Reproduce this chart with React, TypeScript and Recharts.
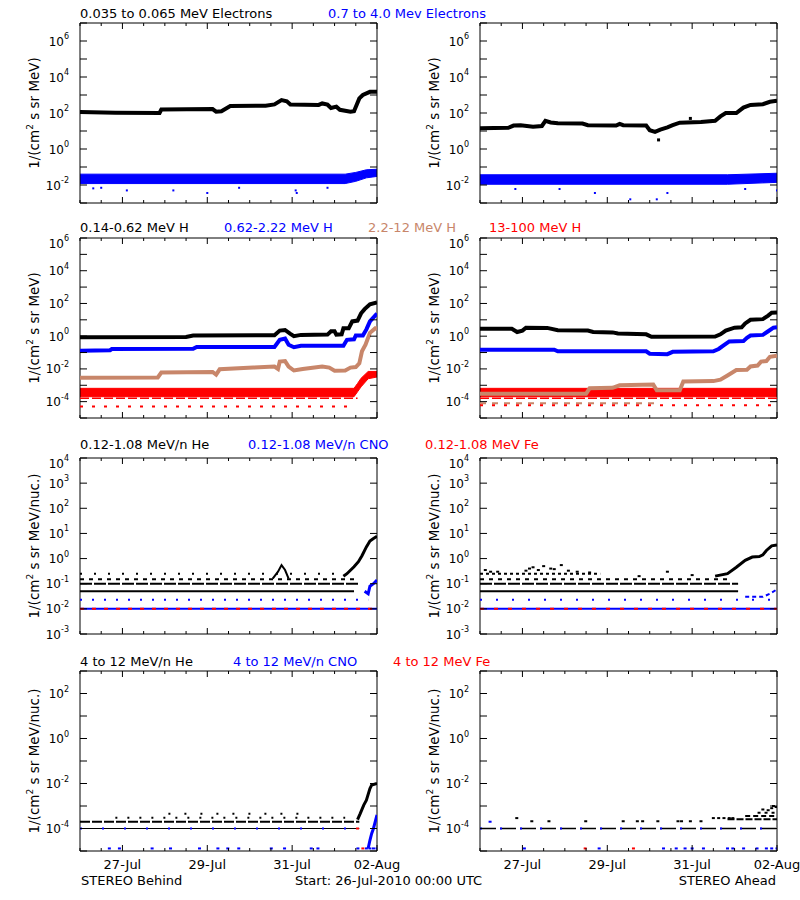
import React from 'react'
import { ComposedChart, Line, Area, Scatter, XAxis, YAxis, ReferenceArea } from 'recharts'

const FONT = '"DejaVu Sans", sans-serif'
const BLACK = '#000000'
const BLUE = '#0000ff'
const TAN = '#c8866a'
const RED = '#ff0000'

// x axis: hours after Start: 26-Jul-2010 00:00 UTC
const HOUR_TICKS = [0, 12, 24, 36, 48, 60, 72, 84, 96, 108, 120, 132, 144, 156, 168]
const DAY_TICKS = [24, 72, 120, 168]
const DAY_LABELS = ['27-Jul', '29-Jul', '31-Jul', '02-Aug']

// y axes (log)
const TICKS_E = [1e-3, 1e-2, 1e-1, 1, 1e1, 1e2, 1e3, 1e4, 1e5, 1e6, 1e7]
const LABELS_E = [-2, 0, 2, 4, 6]
const TICKS_H = [1e-5, 1e-4, 1e-3, 1e-2, 1e-1, 1, 1e1, 1e2, 1e3, 1e4, 1e5, 1e6]
const LABELS_H = [-4, -2, 0, 2, 4, 6]
const TICKS_LO = [1e-3, 1e-2, 1e-1, 1, 1e1, 1e2, 1e3, 1e4]
const LABELS_LO = [-3, -2, -1, 0, 1, 2, 3, 4]
const TICKS_HI = [1e-5, 1e-4, 1e-3, 1e-2, 1e-1, 1, 1e1, 1e2, 1e3]
const LABELS_HI = [-4, -2, 0, 2]

const ROW_TITLES = [
  ['0.035 to 0.065 MeV Electrons', '0.7 to 4.0 Mev Electrons'],
  ['0.14-0.62 MeV H', '0.62-2.22 MeV H', '2.2-12 MeV H', '13-100 MeV H'],
  ['0.12-1.08 MeV/n He', '0.12-1.08 MeV/n CNO', '0.12-1.08 MeV Fe'],
  ['4 to 12 MeV/n He', '4 to 12 MeV/n CNO', '4 to 12 MeV Fe'],
]

// ---- electrons (B = Behind, A = Ahead) ----  [hour, value]
const B_E_LOW = [[0, 112], [20, 102], [45, 100], [46, 155], [75, 165], [77, 118], [80, 125], [85, 245], [105, 255], [110, 300], [114, 520], [117, 450], [119, 300], [135, 280], [137, 340], [140, 290], [142, 190], [145, 225], [147, 150], [153, 118], [155, 125], [158, 650], [160, 1000], [164, 1500], [168, 1500]]
// [hour, low, high]
const B_E_HIGH = [[0, 0.012, 0.04], [150, 0.012, 0.04], [156, 0.016, 0.05], [162, 0.025, 0.07], [168, 0.03, 0.075]]
const B_E_HIGH_OUT = [[7.5, 0.0065], [12, 0.007], [26.5, 0.005], [52.8, 0.005], [72, 0.0036], [90, 0.007], [122.6, 0.0036], [122, 0.005], [140, 0.007]]

const A_E_LOW = [[0, 14], [16, 15], [19, 20], [23, 21], [30, 17], [35, 19], [37, 37], [40, 30], [44, 27], [58, 26], [61, 21], [77, 20], [79, 25], [81, 21], [94, 20], [96, 11], [99, 9], [102, 12], [106, 16], [109, 21], [113, 29], [125, 32], [133, 37], [136, 65], [139, 100], [145, 100], [149, 200], [153, 280], [160, 310], [164, 420], [168, 480]]
const A_E_LOW_OUT = [[101, 3.2], [119, 50]]
const A_E_HIGH = [[0, 0.011, 0.037], [140, 0.011, 0.037], [168, 0.014, 0.045]]
const A_E_HIGH_OUT = [[20, 0.006], [45, 0.006], [65, 0.0036], [85, 0.0016], [100, 0.0016], [106, 0.0036], [150, 0.006], [168, 0.005]]

// ---- protons ----
const B_H1 = [[0, 0.87], [60, 0.9], [64, 1.1], [110, 1.15], [113, 2.2], [116, 2.4], [119, 1.4], [121, 1.0], [125, 1.2], [140, 1.25], [142, 2.0], [144, 2.0], [145, 1.25], [148, 1.3], [149, 3.0], [152, 3.0], [154, 8], [157, 9], [159, 25], [161, 45], [164, 90], [168, 115]]
const B_H2 = [[0, 0.13], [17, 0.14], [18, 0.165], [64, 0.17], [66, 0.22], [110, 0.22], [113, 0.6], [116, 0.72], [118, 0.3], [121, 0.21], [125, 0.26], [149, 0.26], [151, 0.6], [155, 0.65], [156, 1.1], [160, 1.1], [162, 2.6], [164, 8], [168, 24]]
const B_H3 = [[0, 0.0029], [44, 0.003], [46, 0.006], [75, 0.0065], [77, 0.0045], [79, 0.0095], [98, 0.012], [110, 0.014], [112, 0.01], [113, 0.028], [116, 0.03], [118, 0.014], [121, 0.008], [126, 0.01], [137, 0.014], [141, 0.012], [144, 0.0078], [150, 0.008], [153, 0.012], [156, 0.013], [158, 0.022], [159.5, 0.12], [161.5, 0.3], [164, 1.6], [167, 3], [168, 3]]
const B_H4 = [[0, 2e-4, 6.5e-4], [155, 2e-4, 6.5e-4], [157, 4e-4, 1.3e-3], [159, 8e-4, 2.7e-3], [163, 2.5e-3, 7e-3], [168, 3.2e-3, 7e-3]]
// [level, from hour, to hour]
const B_H4_LEVELS = [[1.6e-4, 0, 157], [5e-5, 0, 155]]

const A_H1 = [[0, 2.8], [18, 2.8], [21, 1.8], [24, 2.2], [26, 3.3], [38, 3.2], [44, 2.3], [61, 2.2], [64, 1.8], [75, 1.7], [78, 1.45], [94, 1.3], [97, 0.92], [133, 0.95], [136, 1.3], [139, 2.2], [144, 3.3], [148, 3.5], [150, 6], [153, 10], [160, 11], [163, 18], [165, 27], [168, 28]]
const A_H2 = [[0, 0.15], [42, 0.15], [44, 0.12], [94, 0.12], [96, 0.085], [106, 0.08], [109, 0.11], [132, 0.12], [135, 0.165], [138, 0.28], [141, 0.48], [149, 0.5], [151, 0.8], [153, 1.1], [160, 1.2], [163, 2], [166, 3.3], [168, 3.5]]
const A_H3 = [[0, 3e-4], [60, 3e-4], [62, 6.5e-4], [75, 7e-4], [79, 1e-3], [98, 1.1e-3], [100, 5e-4], [113, 5e-4], [115, 1.7e-3], [132, 1.8e-3], [136, 2.2e-3], [140, 4e-3], [145, 8.5e-3], [151, 9e-3], [153, 1.4e-2], [157, 1.6e-2], [159, 2.8e-2], [162, 3e-2], [164, 5.5e-2], [168, 6.5e-2]]
const A_H3_LEVELS = [[8e-5, 0, 100]]
const A_H4 = [[0, 2e-4, 6.5e-4], [168, 2e-4, 6.5e-4]]
const A_H4_LEVELS = [[1.6e-4, 0, 168], [6e-5, 0, 168]]

// ---- 0.12-1.08 MeV/n heavy ions ----
const B_HE_LEVELS = [[0.05, 0, 155], [0.1, 0, 158], [0.15, 0, 155], [0.25, 0, 150]]
const B_HE_BUMP = [[109, 0.16], [112, 0.3], [114, 0.55], [116, 0.35], [118, 0.16]]
const B_HE_RISE = [[149, 0.2], [151, 0.25], [155, 0.47], [157.5, 0.75], [159.5, 1.3], [162, 2.9], [164, 5], [166, 6.3], [168, 7.7]]
const B_CNO_LEVELS = [[0.023, 0, 163], [0.01, 0, 168]]
const B_CNO_RISE = [[161, 0.05], [163, 0.04], [164, 0.08], [166, 0.1], [168, 0.14]]
const B_FE_LEVELS = [[0.01, 0, 168]]

const A_HE_LEVELS = [[0.05, 0, 146], [0.1, 0, 146], [0.15, 0, 140], [0.25, 0, 68]]
const A_HE_OUT = [[3, 0.35], [6, 0.3], [10, 0.3], [26, 0.33], [28, 0.4], [30, 0.45], [33, 0.35], [36, 0.5], [40, 0.4], [42, 0.38], [46, 0.55], [50, 0.33], [55, 0.3], [62, 0.28], [90, 0.2], [106, 0.3], [120, 0.22]]
const A_HE_RISE = [[133, 0.2], [140, 0.25], [145, 0.45], [150, 0.85], [154, 1.15], [158, 1.2], [160, 1.4], [162, 2.1], [165, 3.2], [168, 3.5]]
const A_CNO_LEVELS = [[0.023, 0, 168], [0.01, 0, 168]]
const A_CNO_RISE = [[150, 0.03], [160, 0.03], [164, 0.04], [168, 0.06]]
const A_FE_LEVELS = [[0.01, 0, 168]]

// ---- 4 to 12 MeV/n ----
const FLOOR = 1.3e-5
const B_HE4_LEVELS = [[1e-4, 0, 158], [2e-4, 0, 158], [3e-4, 20, 150], [4.5e-4, 50, 125]]
const B_HE4_RISE = [[157, 2.5e-4], [158.5, 4.6e-4], [160.5, 1.1e-3], [162, 1.8e-3], [164, 6e-3], [165, 8.5e-3], [168, 1e-2]]
const B_CNO4_LEVELS = [[1e-4, 0, 158]]
const B_CNO4_RISE = [[163, 1.3e-5], [164, 3e-5], [165, 6e-5], [166, 1e-4], [167, 2e-4], [168, 4e-4]]
const B_CNO4_FLOOR_HOURS = [16.6, 22.3, 40.8, 51.2, 67.6, 78, 83.6, 89.8, 108.2, 115.7, 130.8, 134.6, 157.2, 162, 164, 166, 168]
const B_FE4_PTS = [[157, 1e-4], [160, 1.3e-5]]

const A_HE4_LEVELS = [[1e-4, 0, 168], [2.6e-4, 140, 168], [3.6e-4, 150, 168], [5e-4, 157, 168]]
const A_HE4_PTS = [[20.8, 2.9e-4], [29.3, 2.1e-4], [39, 2.1e-4], [59.8, 2.1e-4], [81, 2.1e-4], [89, 2.1e-4], [92, 2.1e-4], [100.6, 2.1e-4], [112, 2.1e-4], [114, 2.1e-4], [119, 2.1e-4], [125, 2.1e-4], [132, 2.9e-4], [135, 2.9e-4], [138, 2.9e-4], [141, 2.9e-4], [143, 2.9e-4], [160, 7e-4], [163, 6.5e-4], [165, 8e-4], [166, 1e-3], [167.5, 9e-4]]
const A_CNO4_LEVELS = [[1e-4, 0, 168]]
const A_CNO4_PTS = [[5.7, 2e-4]]
const A_CNO4_FLOOR_HOURS = [25.1, 67.4, 103.8, 111, 116, 120, 126.4, 140, 143, 149.1, 156.7, 162, 165, 168]
const A_FE4_FLOOR_HOURS = [59.5, 86.8]

const pts = (a: number[][]) => a.map(([h, v]) => ({ h, v }))
const band = (a: number[][]) => a.map(([h, lo, hi]) => ({ h, r: [lo, hi] }))
const seg = ([v, from, to]: number[]) => [{ h: from, v }, { h: to, v }]
const floorPts = (hours: number[]) => hours.map((h) => ({ h, v: FLOOR }))

function curve(key: string, data: any[], color: string, width: number, dash?: string) {
  return (
    <Line key={key} data={data} dataKey="v" type="linear" stroke={color} strokeWidth={width}
      strokeDasharray={dash} dot={false} activeDot={false} isAnimationActive={false} />
  )
}

function bandArea(key: string, data: any[], color: string) {
  return (
    <Area key={key} data={data} dataKey="r" type="linear" stroke={color} strokeWidth={1}
      fill={color} fillOpacity={1} dot={false} activeDot={false} isAnimationActive={false} />
  )
}

function dots(key: string, data: any[], color: string, w = 2, hgt = 2) {
  return (
    <Scatter key={key} data={data} dataKey="v" fill={color} isAnimationActive={false}
      shape={(p: any) => <rect x={p.cx - w / 2} y={p.cy - hgt / 2} width={w} height={hgt} fill={color} />} />
  )
}

const PLOT_W = 297

function XTick({ x, y, payload, plotH, showLabel }: any) {
  const i = DAY_TICKS.indexOf(payload.value)
  const len = i >= 0 ? 6 : 3
  return (
    <g>
      <line x1={x} x2={x} y1={y} y2={y - len} stroke={BLACK} />
      <line x1={x} x2={x} y1={y - plotH} y2={y - plotH + len} stroke={BLACK} />
      {showLabel && i >= 0 && (
        <text x={x} y={y + 18} textAnchor="middle" fontFamily={FONT} fontSize={13} fill={BLACK}>
          {DAY_LABELS[i]}
        </text>
      )}
    </g>
  )
}

function YTick({ x, y, payload, labeled, topE }: any) {
  const e = Math.round(Math.log10(payload.value))
  // the label of the top decade sits a little lower, inside the frame
  const shift = e === topE ? 5 : 0
  return (
    <g>
      <line x1={x} x2={x + 7} y1={y} y2={y} stroke={BLACK} />
      <line x1={x + PLOT_W - 7} x2={x + PLOT_W} y1={y} y2={y} stroke={BLACK} />
      {labeled.includes(e) && (
        <text x={x - 11} y={y + 4.5 + shift} textAnchor="end" fontFamily={FONT} fontSize={12} fill={BLACK}>
          10<tspan dy={-6.5} fontSize={8}>{e}</tspan>
        </text>
      )}
    </g>
  )
}

function Panel({ x0, y0, h, dom, ticks, labeled, dayLabels, children }: any) {
  const topE = Math.round(Math.log10(dom[1]))
  return (
    <div style={{ position: 'absolute', left: x0 - 80, top: y0 - 10 }}>
      <ComposedChart width={80 + PLOT_W + 30} height={h + 50} margin={{ top: 10, right: 30, bottom: 0, left: 0 }}>
        <XAxis type="number" dataKey="h" domain={[0, 168]} allowDataOverflow ticks={HOUR_TICKS} interval={0}
          height={40} axisLine={false} tickLine={false} tickSize={0} tickMargin={0}
          tick={(p: any) => <XTick {...p} plotH={h} showLabel={dayLabels} />} />
        <YAxis type="number" scale="log" domain={dom} allowDataOverflow ticks={ticks} interval={0}
          width={80} axisLine={false} tickLine={false} tickSize={0} tickMargin={0}
          tick={(p: any) => <YTick {...p} labeled={labeled} topE={topE} />} />
        {children}
        <ReferenceArea x1={0} x2={168} y1={dom[0]} y2={dom[1]} fill="none" fillOpacity={0} stroke={BLACK} strokeWidth={1} />
      </ComposedChart>
    </div>
  )
}

function YTitle({ x, cy, nuc }: { x: number; cy: number; nuc?: boolean }) {
  return (
    <text transform={`translate(${x},${cy}) rotate(-90)`} textAnchor="middle" fontFamily={FONT} fontSize={13.5} fill={BLACK}>
      1/(cm<tspan dy={-6} fontSize={9}>2</tspan><tspan dy={6}>{nuc ? ' s sr MeV/nuc.)' : ' s sr MeV)'}</tspan>
    </text>
  )
}

const TITLE_X = [[80, 328], [80, 224, 368, 489], [80, 248, 425], [80, 233, 393]]
const TITLE_Y = [18, 232, 449, 666]
const TITLE_COLORS = [[BLACK, BLUE], [BLACK, BLUE, TAN, RED], [BLACK, BLUE, RED], [BLACK, BLUE, RED]]

export default function App() {
  const L = 80
  const R = 480
  return (
    <div style={{ position: 'absolute', left: 0, top: 0, width: 800, height: 900, overflow: 'hidden', background: '#fff' }}>
      {/* row 1: electrons */}
      <Panel x0={L} y0={23} h={180} dom={[1e-3, 1e7]} ticks={TICKS_E} labeled={LABELS_E}>
        {bandArea('bh', band(B_E_HIGH), BLUE)}
        {dots('bho', pts(B_E_HIGH_OUT), BLUE)}
        {curve('bl', pts(B_E_LOW), BLACK, 4)}
      </Panel>
      <Panel x0={R} y0={23} h={180} dom={[1e-3, 1e7]} ticks={TICKS_E} labeled={LABELS_E}>
        {bandArea('ah', band(A_E_HIGH), BLUE)}
        {dots('aho', pts(A_E_HIGH_OUT), BLUE)}
        {curve('al', pts(A_E_LOW), BLACK, 4)}
        {dots('alo', pts(A_E_LOW_OUT), BLACK, 3, 3)}
      </Panel>

      {/* row 2: protons */}
      <Panel x0={L} y0={238} h={180} dom={[1e-5, 1e6]} ticks={TICKS_H} labeled={LABELS_H}>
        {curve('b1', pts(B_H1), BLACK, 4)}
        {curve('b2', pts(B_H2), BLUE, 4)}
        {curve('b3', pts(B_H3), TAN, 4)}
        {bandArea('b4', band(B_H4), RED)}
        {curve('b4a', seg(B_H4_LEVELS[0]), RED, 1.5, '9 3')}
        {curve('b4b', seg(B_H4_LEVELS[1]), RED, 2, '3 9')}
      </Panel>
      <Panel x0={R} y0={238} h={180} dom={[1e-5, 1e6]} ticks={TICKS_H} labeled={LABELS_H}>
        {curve('a1', pts(A_H1), BLACK, 4)}
        {curve('a2', pts(A_H2), BLUE, 4)}
        {curve('a3f', seg(A_H3_LEVELS[0]), TAN, 2, '6 6')}
        {curve('a3', pts(A_H3), TAN, 4)}
        {bandArea('a4', band(A_H4), RED)}
        {curve('a4a', seg(A_H4_LEVELS[0]), RED, 1.5, '9 3')}
        {curve('a4b', seg(A_H4_LEVELS[1]), RED, 2, '3 9')}
      </Panel>

      {/* row 3: 0.12-1.08 MeV/n */}
      <Panel x0={L} y0={458} h={176} dom={[1e-3, 1e4]} ticks={TICKS_LO} labeled={LABELS_LO}>
        {curve('bhe0', seg(B_HE_LEVELS[0]), BLACK, 2)}
        {curve('bhe1', seg(B_HE_LEVELS[1]), BLACK, 2, '12 2')}
        {curve('bhe2', seg(B_HE_LEVELS[2]), BLACK, 2, '4 5')}
        {curve('bhe3', seg(B_HE_LEVELS[3]), BLACK, 2, '2 12')}
        {curve('bheb', pts(B_HE_BUMP), BLACK, 2)}
        {curve('bher', pts(B_HE_RISE), BLACK, 3)}
        {curve('bc0', seg(B_CNO_LEVELS[0]), BLUE, 2, '2 10')}
        {curve('bc1', seg(B_CNO_LEVELS[1]), BLUE, 2)}
        {curve('bfe', seg(B_FE_LEVELS[0]), RED, 2, '4 8')}
        {curve('bcr', pts(B_CNO_RISE), BLUE, 3)}
      </Panel>
      <Panel x0={R} y0={458} h={176} dom={[1e-3, 1e4]} ticks={TICKS_LO} labeled={LABELS_LO}>
        {curve('ahe0', seg(A_HE_LEVELS[0]), BLACK, 2)}
        {curve('ahe1', seg(A_HE_LEVELS[1]), BLACK, 2, '12 2')}
        {curve('ahe2', seg(A_HE_LEVELS[2]), BLACK, 2, '4 5')}
        {curve('ahe3', seg(A_HE_LEVELS[3]), BLACK, 2, '3 3')}
        {dots('aheo', pts(A_HE_OUT), BLACK, 3, 2)}
        {curve('aher', pts(A_HE_RISE), BLACK, 3)}
        {curve('ac0', seg(A_CNO_LEVELS[0]), BLUE, 2, '2 14')}
        {curve('ac1', seg(A_CNO_LEVELS[1]), BLUE, 2)}
        {curve('afe', seg(A_FE_LEVELS[0]), RED, 2, '4 10')}
        {curve('acr', pts(A_CNO_RISE), BLUE, 2, '4 3')}
      </Panel>

      {/* row 4: 4 to 12 MeV/n */}
      <Panel x0={L} y0={671} h={180} dom={[1e-5, 1e3]} ticks={TICKS_HI} labeled={LABELS_HI} dayLabels>
        {curve('bhe40', seg(B_HE4_LEVELS[0]), BLACK, 1)}
        {curve('bhe41', seg(B_HE4_LEVELS[1]), BLACK, 2, '10 2')}
        {curve('bhe42', seg(B_HE4_LEVELS[2]), BLACK, 2, '2 10')}
        {curve('bhe43', seg(B_HE4_LEVELS[3]), BLACK, 2, '2 14')}
        {curve('bhe4r', pts(B_HE4_RISE), BLACK, 3)}
        {curve('bc4', seg(B_CNO4_LEVELS[0]), BLUE, 2, '2 20')}
        {dots('bc4f', floorPts(B_CNO4_FLOOR_HOURS), BLUE, 3, 2)}
        {curve('bc4r', pts(B_CNO4_RISE), BLUE, 3)}
        {dots('bfe4', pts(B_FE4_PTS), RED, 3, 2)}
      </Panel>
      <Panel x0={R} y0={671} h={180} dom={[1e-5, 1e3]} ticks={TICKS_HI} labeled={LABELS_HI} dayLabels>
        {curve('ahe40', seg(A_HE4_LEVELS[0]), BLACK, 1.5, '16 4')}
        {curve('ac4', seg(A_CNO4_LEVELS[0]), BLUE, 2, '2 18')}
        {curve('ahe41', seg(A_HE4_LEVELS[1]), BLACK, 2, '7 2')}
        {curve('ahe42', seg(A_HE4_LEVELS[2]), BLACK, 2, '5 3')}
        {curve('ahe43', seg(A_HE4_LEVELS[3]), BLACK, 2, '3 4')}
        {dots('ahe4p', pts(A_HE4_PTS), BLACK, 3, 2)}
        {dots('ac4p', pts(A_CNO4_PTS), BLUE, 3, 2)}
        {dots('ac4f', floorPts(A_CNO4_FLOOR_HOURS), BLUE, 3, 2)}
        {dots('afe4f', floorPts(A_FE4_FLOOR_HOURS), RED, 3, 2)}
      </Panel>

      <svg width={800} height={900} style={{ position: 'absolute', left: 0, top: 0, pointerEvents: 'none' }}>
        {ROW_TITLES.map((row, r) =>
          row.map((t, i) => (
            <text key={`${r}-${i}`} x={TITLE_X[r][i]} y={TITLE_Y[r]} fontFamily={FONT} fontSize={13} fill={TITLE_COLORS[r][i]}>
              {t}
            </text>
          ))
        )}
        <YTitle x={39} cy={113} />
        <YTitle x={439} cy={113} />
        <YTitle x={39} cy={328} />
        <YTitle x={439} cy={328} />
        <YTitle x={39} cy={546} nuc />
        <YTitle x={439} cy={546} nuc />
        <YTitle x={39} cy={761} nuc />
        <YTitle x={439} cy={761} nuc />
        <text x={81} y={885} fontFamily={FONT} fontSize={13} fill={BLACK}>STEREO Behind</text>
        <text x={295} y={885} fontFamily={FONT} fontSize={13} fill={BLACK}>Start: 26-Jul-2010 00:00 UTC</text>
        <text x={776} y={885} textAnchor="end" fontFamily={FONT} fontSize={13} fill={BLACK}>STEREO Ahead</text>
      </svg>
    </div>
  )
}
